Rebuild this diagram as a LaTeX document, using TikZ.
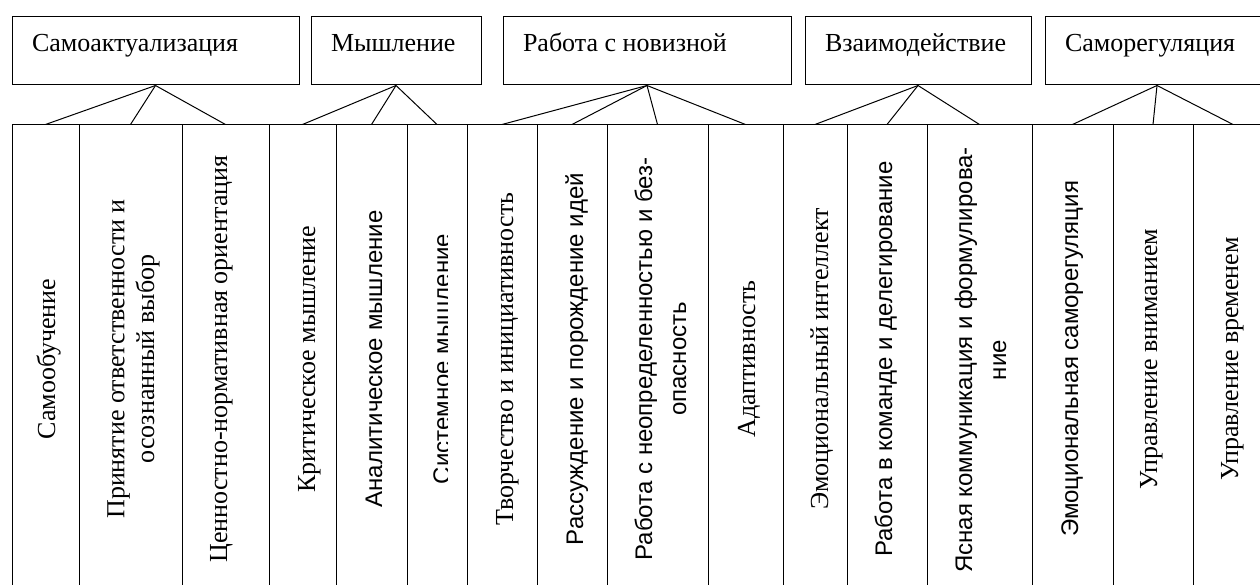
\documentclass[tikz,border=0pt]{standalone}
\usepackage{fontspec}
\setmainfont{Liberation Serif}
\newfontfamily\sansf{Liberation Sans}
\newcommand{\wsx}{\rule[-0.216em]{0pt}{1.107em}}
\begin{document}
\begin{tikzpicture}[x=1pt,y=-1pt,line width=1pt,
  tbox/.style={draw, rectangle, minimum height=68pt, inner sep=0pt},
  colbox/.style={draw, rectangle, minimum height=475pt, inner sep=0pt},
  ttext/.style={font=\fontsize{26}{30}\selectfont, inner sep=0pt, anchor=base west, xshift=20pt},
  vser/.style={rotate=90, inner sep=0pt, anchor=base, font=\fontsize{26}{29.9}\selectfont},
  vsan/.style={rotate=90, inner sep=0pt, anchor=base, font=\sansf\fontsize{24}{34}\selectfont},
  vser2/.style={rotate=90, inner sep=0pt, align=center, anchor=center, font=\fontsize{26}{29.9}\selectfont},
  vsan2/.style={rotate=90, inner sep=0pt, align=center, anchor=center, font=\sansf\fontsize{24}{34}\selectfont},
  link/.style={draw, line width=1pt}]
\useasboundingbox (0,0) rectangle (1260,585);
\clip (0,0) rectangle (1260,585);
\fill[white] (0,0) rectangle (1260,585);
% top boxes
\node[tbox, minimum width=287pt] (b1) at (155.5,51) {};
\node[tbox, minimum width=170pt] (b2) at (396,51) {};
\node[tbox, minimum width=288pt] (b3) at (647,51) {};
\node[tbox, minimum width=226pt] (b4) at (918,51) {};
\node[tbox, minimum width=224pt] (b5) at (1157,51) {};
\coordinate (tb) at (0,52);
\node[ttext] (l1) at (b1.west |- tb) {Самоактуализация};
\node[ttext] (l2) at (b2.west |- tb) {Мышление};
\node[ttext] (l3) at (b3.west |- tb) {Работа с новизной};
\node[ttext] (l4) at (b4.west |- tb) {Взаимодействие};
\node[ttext] (l5) at (b5.west |- tb) {Саморегуляция};
% columns
\foreach \a/\b [count=\i] in {12/79,79/182,182/269,269/336,336/407,407/467,467/537,537/607,607/708,708/783,783/847,847/927,927/1032,1032/1113,1113/1193,1193/1273}
  \node[colbox, minimum width={(\b-\a)*1pt}] (c\i) at ({(\a+\b)/2},362.5) {};
% connectors
\foreach \p/\c in {1/1,1/2,1/3,2/4,2/5,2/6,3/7,3/8,3/9,3/10,4/11,4/12,4/13,5/14,5/15,5/16}
  \draw[link] (b\p.south) -- (c\c.north);
% column texts
\node[vser] (t1) at (55,359) {Самообучение};
\node[vser2] (t2) at (130.5,359) {\wsx Принятие ответственности и\\\wsx осознанный выбор};
\node[vser] (t3) at (227,359) {Ценностно-нормативная ориентация};
\node[vser] (t4) at (315,359) {Критическое мышление};
\node[vsan] (t5) at (382,359) {Аналитическое мышление};
\begin{scope}
  \clip (407,125) rectangle (447.5,585);
  \node[vsan] (t6) at (450,359) {Системное мышление};
\end{scope}
\node[vser] (t7) at (513,359) {Творчество и инициативность};
\node[vsan] (t8) at (583,359) {Рассуждение и порождение идей};
\node[vsan2] (t9) at (661,359) {\wsx Работа с неопределенностью и без-\\\wsx опасность};
\node[vser] (t10) at (755,359) {Адаптивность};
\node[vser] (t11) at (828,359) {Эмоциональный интеллект};
\node[vsan] (t12) at (892,359) {Работа в команде и делегирование};
\node[vsan2] (t13) at (981,360) {\wsx Ясная коммуникация и формулирова-\\\wsx ние};
\node[vsan] (t14) at (1078,359) {Эмоциональная саморегуляция};
\node[vser] (t15) at (1157,359) {Управление вниманием};
\node[vser] (t16) at (1238,359) {Управление временем};
\end{tikzpicture}
\end{document}
